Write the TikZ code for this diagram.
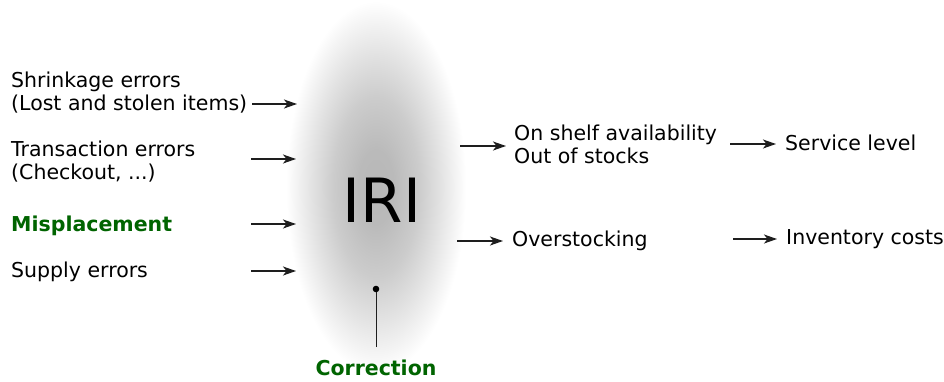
\documentclass[tikz,border=0pt]{standalone}
\usepackage{fontspec}
\setmainfont{DejaVu Sans}
\usetikzlibrary{arrows.meta}
\definecolor{labelgreen}{RGB}{0,100,0}
\definecolor{linegray}{RGB}{30,30,30}
% elliptical blob: grey core fading to white at the rim (rim sits at 25bp)
\pgfdeclareradialshading{iriblob}{\pgfpoint{0bp}{0bp}}{%
  color(0bp)=(black!28); color(5bp)=(black!27); color(12bp)=(black!20);
  color(18bp)=(black!11); color(22.5bp)=(black!4); color(25bp)=(white);
  color(50bp)=(white)}
\begin{document}
\begin{tikzpicture}[x=1pt,y=-1pt,
  txt/.style={inner sep=0pt, anchor=base west, align=left,
    font=\fontsize{20.5}{22.5}\selectfont},
  hl/.style={txt, font=\fontsize{20.5}{22.5}\selectfont\bfseries, text=labelgreen},
  arr/.style={-{Stealth[length=13pt,width=9pt,inset=3.5pt]}, line width=1.2pt, draw=linegray}]
\useasboundingbox (0,0) rectangle (944,381);
\fill[white] (0,0) rectangle (944,381);

% the IRI blob
\shade[shading=iriblob] (376,187) ellipse [x radius=90, y radius=186];
\node[inner sep=0pt, anchor=base, font=\fontsize{61}{66}\selectfont] (iri) at (382,222) {IRI};

% causes on the left (two-line labels are anchored on their last line)
\node[txt] (shrink) at (11,110) {Shrinkage errors\\(Lost and stolen items)};
\node[txt] (trans) at (11,179) {Transaction errors\\(Checkout, ...)};
\node[hl] (misplace) at (11,231) {Misplacement};
\node[txt] (supply) at (11,277) {Supply errors};

\coordinate (s1) at (252,104); \coordinate (e1) at (297,104);
\coordinate (s2) at (251,159); \coordinate (e2) at (296,159);
\coordinate (s3) at (251,224); \coordinate (e3) at (296,224);
\coordinate (s4) at (251,271); \coordinate (e4) at (296,271);
\foreach \i in {1,...,4} \draw[arr] (s\i) -- (e\i);

% effects on the right
\node[txt] (shelf) at (514,163) {On shelf availability\\Out of stocks};
\node[txt] (service) at (785,150) {Service level};
\node[txt] (over) at (512,246) {Overstocking};
\node[txt] (invcost) at (786,244) {Inventory costs};

\coordinate (r1s) at (460,146); \coordinate (r1e) at (506,146);
\coordinate (r2s) at (730,144); \coordinate (r2e) at (776,144);
\coordinate (r3s) at (457,241); \coordinate (r3e) at (503,241);
\coordinate (r4s) at (733,239); \coordinate (r4e) at (777,239);
\draw[arr] (r1s) -- (r1e);
\draw[arr] (r2s) -- (r2e);
\draw[arr] (r3s) -- (r3e);
\draw[arr] (r4s) -- (r4e);

% correction acting on the blob
\node[hl, anchor=base] (correction) at (376,375) {Correction};
\coordinate (corrdot) at (376,289);
\path (correction.north) ++(0,-12) coordinate (corrtop);
\draw[linegray, line width=1pt] (corrtop) -- (corrdot);
\fill[black] (corrdot) circle (3.3);
\end{tikzpicture}
\end{document}
